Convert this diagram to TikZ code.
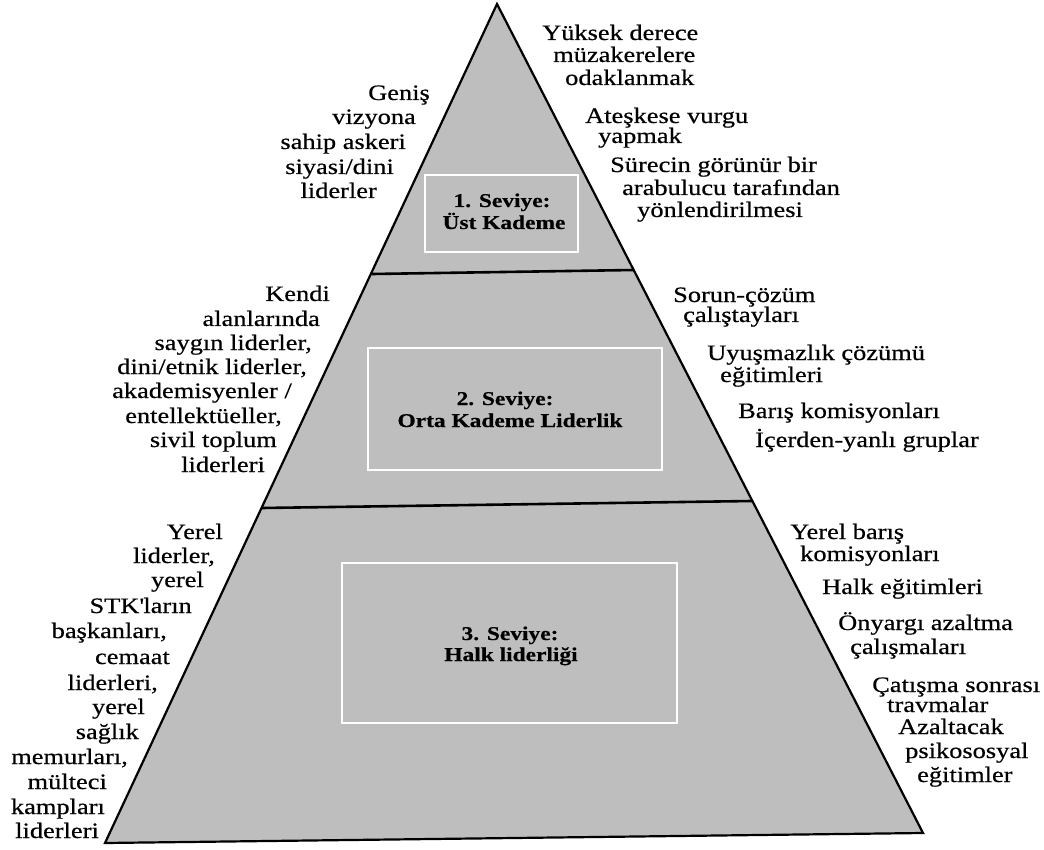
\documentclass[tikz,border=0pt]{standalone}
\usepackage{fontspec}
\setmainfont{Liberation Serif}[FakeStretch=1.2, FakeBold=0.5]
\definecolor{pyrgray}{RGB}{190,190,190}
\begin{document}
\begin{tikzpicture}[x=1pt,y=-1pt,
  side/.style={inner sep=0pt, font=\fontsize{22}{24}\selectfont},
  lft/.style={side, anchor=base east},
  rgt/.style={side, anchor=base west},
  lvl/.style={inner sep=0pt, anchor=base, font=\fontsize{19.5}{22}\selectfont\bfseries},
  edgeline/.style={line width=2.2pt, line join=miter},
  tier/.style={line width=2.6pt},
  frame/.style={draw=white, line width=2.2pt}]
\useasboundingbox (0,0) rectangle (1044,850);
% pyramid
\coordinate (apex) at (497,4);
\coordinate (bl) at (105,843);
\coordinate (br) at (923,833);
\coordinate (t1l) at (372,274);
\coordinate (t1r) at (634,270);
\coordinate (t2l) at (262,508);
\coordinate (t2r) at (752,501);
\fill[pyrgray] (apex) -- (bl) -- (br) -- cycle;
\draw[tier] (t1l) -- (t1r);
\draw[tier] (t2l) -- (t2r);
\draw[edgeline] (apex) -- (bl) -- (br) -- cycle;
% level frames
\coordinate (f1a) at (425,175); \coordinate (f1b) at (578,252);
\coordinate (f2a) at (368,348); \coordinate (f2b) at (662,470);
\coordinate (f3a) at (342,563); \coordinate (f3b) at (677,723);
\draw[frame] (f1a) rectangle (f1b);
\draw[frame] (f2a) rectangle (f2b);
\draw[frame] (f3a) rectangle (f3b);
% level labels
\node[lvl] (l1a) at (502,207) {1. Seviye:};
\node[lvl] (l1b) at (504,229) {Üst Kademe};
\node[lvl] (l2a) at (505,405) {2. Seviye:};
\node[lvl] (l2b) at (510,427) {Orta Kademe Liderlik};
\node[lvl] (l3a) at (510,640) {3. Seviye:};
\node[lvl] (l3b) at (511,661) {Halk liderliği};
% top right
\node[rgt] (r1a) at (542,40) {Yüksek derece};
\node[rgt] (r1b) at (553,62) {müzakerelere};
\node[rgt] (r1c) at (565,85) {odaklanmak};
\node[rgt] (r1d) at (585,123) {Ateşkese vurgu};
\node[rgt] (r1e) at (598,143) {yapmak};
\node[rgt] (r1f) at (610,172) {Sürecin görünür bir};
\node[rgt] (r1g) at (622,195) {arabulucu tarafından};
\node[rgt] (r1h) at (637,217) {yönlendirilmesi};
% top left
\node[lft] (p1a) at (430,100) {Geniş};
\node[lft] (p1b) at (416,124) {vizyona};
\node[lft] (p1c) at (406,149) {sahip askeri};
\node[lft] (p1d) at (394,174) {siyasi/dini};
\node[lft] (p1e) at (377,198) {liderler};
% middle left
\node[lft] (p2a) at (330,301) {Kendi};
\node[lft] (p2b) at (320,326) {alanlarında};
\node[lft] (p2c) at (312,350) {saygın liderler,};
\node[lft] (p2d) at (307,374) {dini/etnik liderler,};
\node[lft] (p2e) at (292,398) {akademisyenler /};
\node[lft] (p2f) at (282,423) {entellektüeller,};
\node[lft] (p2g) at (277,447) {sivil toplum};
\node[lft] (p2h) at (265,472) {liderleri};
% middle right
\node[rgt] (r2a) at (673,302) {Sorun-çözüm};
\node[rgt] (r2b) at (683,322) {çalıştayları};
\node[rgt] (r2c) at (707,360) {Uyuşmazlık çözümü};
\node[rgt] (r2d) at (720,382) {eğitimleri};
\node[rgt] (r2e) at (738,418) {Barış komisyonları};
\node[rgt] (r2f) at (755,447) {İçerden-yanlı gruplar};
% bottom left
\node[lft] (p3a) at (223,539) {Yerel};
\node[lft] (p3b) at (215,563) {liderler,};
\node[lft] (p3c) at (204,587) {yerel};
\node[lft] (p3d) at (192,613) {STK\textquotesingle ların};
\node[lft] (p3e) at (167,638) {başkanları,};
\node[lft] (p3f) at (170,664) {cemaat};
\node[lft] (p3g) at (158,690) {liderleri,};
\node[lft] (p3h) at (145,714) {yerel};
\node[lft] (p3i) at (139,739) {sağlık};
\node[lft] (p3j) at (128,764) {memurları,};
\node[lft] (p3k) at (107,789) {mülteci};
\node[lft] (p3l) at (105,814) {kampları};
\node[lft] (p3m) at (99,838) {liderleri};
% bottom right
\node[rgt] (r3a) at (790,539) {Yerel barış};
\node[rgt] (r3b) at (800,561) {komisyonları};
\node[rgt] (r3c) at (822,594) {Halk eğitimleri};
\node[rgt] (r3d) at (838,630) {Önyargı azaltma};
\node[rgt] (r3e) at (850,654) {çalışmaları};
\node[rgt] (r3f) at (872,692) {Çatışma sonrası};
\node[rgt] (r3g) at (887,712) {travmalar};
\node[rgt] (r3h) at (898,734) {Azaltacak};
\node[rgt] (r3i) at (905,758) {psikososyal};
\node[rgt] (r3j) at (917,782) {eğitimler};
\end{tikzpicture}
\end{document}
